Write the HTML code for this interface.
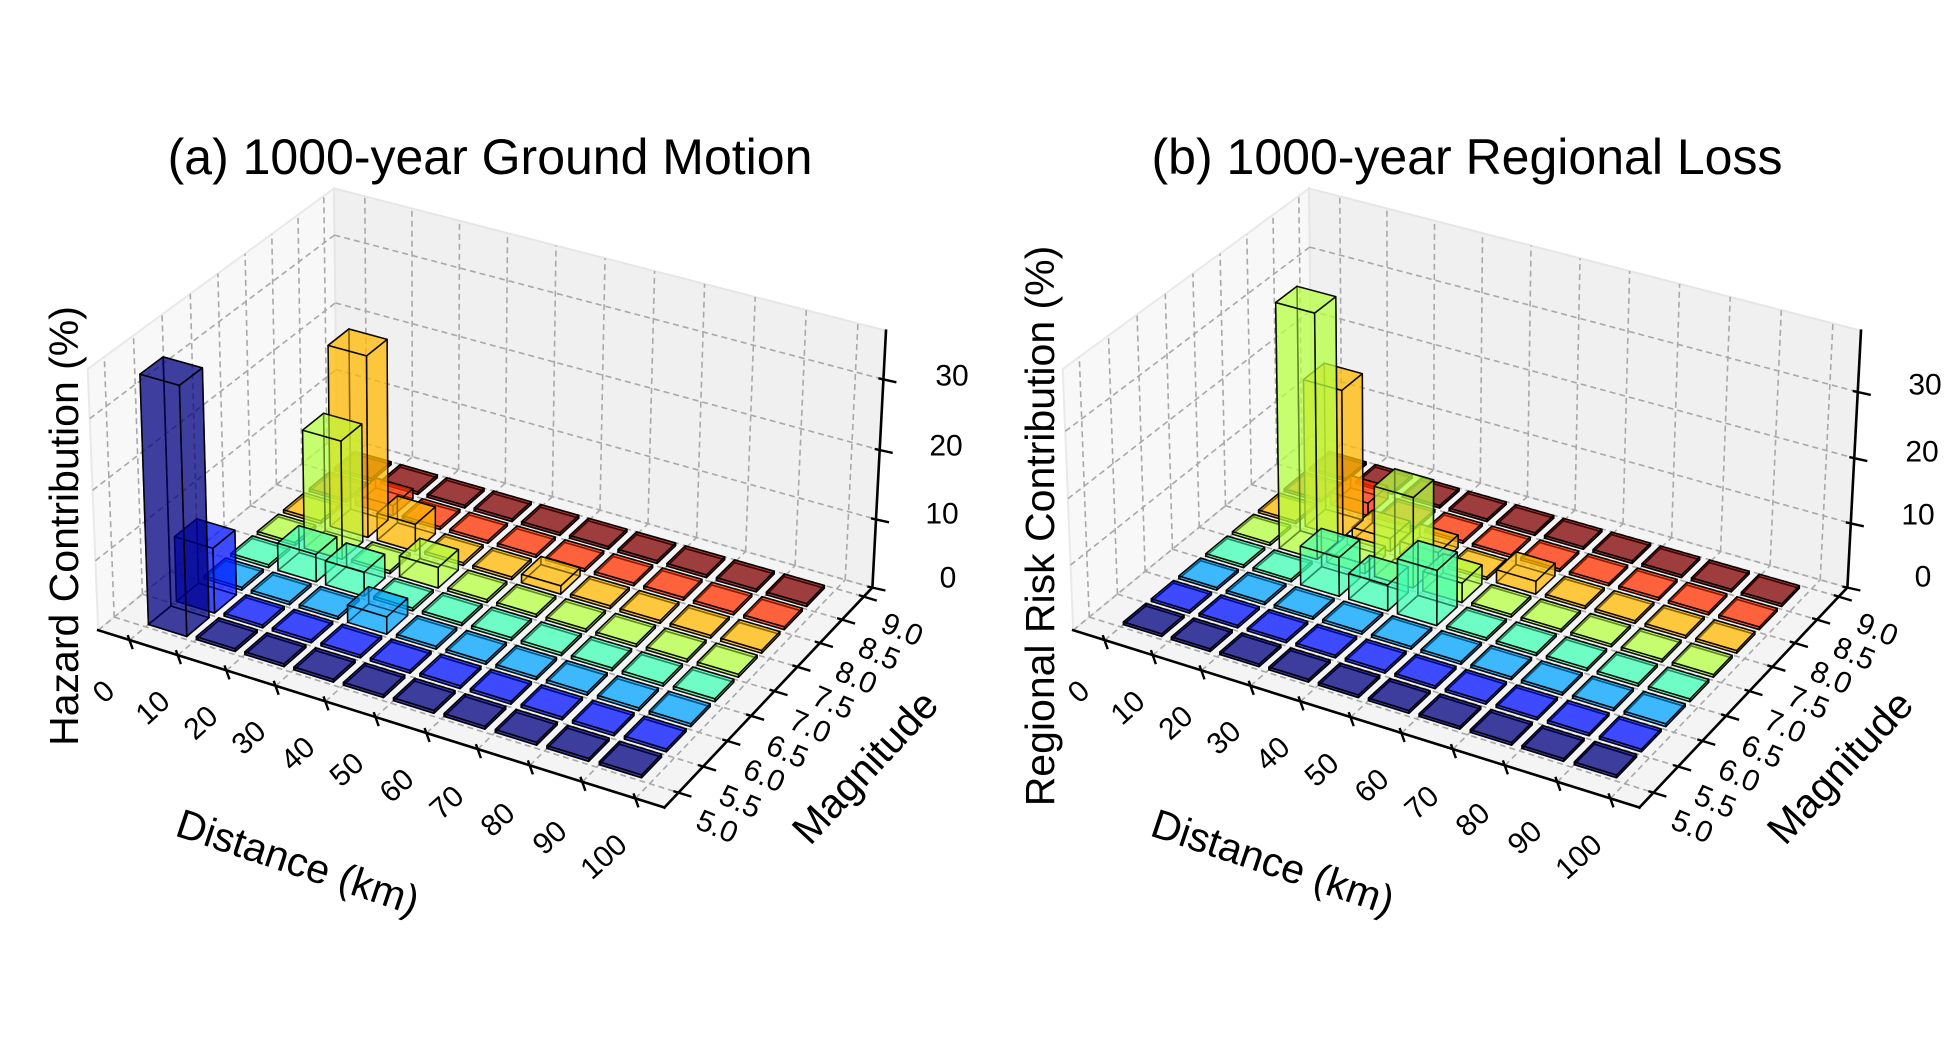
<!DOCTYPE html>
<html><head><meta charset="utf-8">
<style>
html,body{margin:0;padding:0;background:#fff;}
svg{display:block;}
text{font-family:"Liberation Sans",Arial,sans-serif;fill:#000;}
.t{font-size:30px;}
.l{font-size:41px;}
.ti{font-size:50px;}
</style></head><body>
<svg id="s" width="1950" height="1050" viewBox="0 0 1950 1050" xmlns="http://www.w3.org/2000/svg">
<rect width="1950" height="1050" fill="#fff"/>
<g id="ga"></g><g id="gb"></g>

<text class="ti" x="490" y="174" text-anchor="middle">(a) 1000-year Ground Motion</text>
<text class="ti" x="1467" y="174" text-anchor="middle">(b) 1000-year Regional Loss</text>

<text class="l" x="64" y="526" text-anchor="middle" dominant-baseline="central" transform="rotate(-90 64 526)">Hazard Contribution (%)</text>
<text class="l" x="1040" y="526" text-anchor="middle" dominant-baseline="central" transform="rotate(-90 1040 526)">Regional Risk Contribution (%)</text>

<text class="l" x="298" y="862" text-anchor="middle" dominant-baseline="central" transform="rotate(18.5 298 862)">Distance (km)</text>
<text class="l" x="1273" y="862" text-anchor="middle" dominant-baseline="central" transform="rotate(18.5 1273 862)">Distance (km)</text>
<text class="l" x="865" y="767" text-anchor="middle" dominant-baseline="central" transform="rotate(-47 865 767)">Magnitude</text>
<text class="l" x="1840" y="767" text-anchor="middle" dominant-baseline="central" transform="rotate(-47 1840 767)">Magnitude</text>

<!-- z tick labels a -->
<text class="t" x="952" y="376" text-anchor="middle" dominant-baseline="central">30</text>
<text class="t" x="946" y="446" text-anchor="middle" dominant-baseline="central">20</text>
<text class="t" x="942" y="514" text-anchor="middle" dominant-baseline="central">10</text>
<text class="t" x="948" y="578" text-anchor="middle" dominant-baseline="central">0</text>
<!-- z tick labels b -->
<text class="t" x="1925" y="385" text-anchor="middle" dominant-baseline="central">30</text>
<text class="t" x="1922" y="452" text-anchor="middle" dominant-baseline="central">20</text>
<text class="t" x="1918" y="515" text-anchor="middle" dominant-baseline="central">10</text>
<text class="t" x="1923" y="577" text-anchor="middle" dominant-baseline="central">0</text>

<!-- distance tick labels a -->
<text class="t" x="104" y="692" text-anchor="middle" dominant-baseline="central" transform="rotate(-42 104 692)">0</text>
<text class="t" x="153" y="708" text-anchor="middle" dominant-baseline="central" transform="rotate(-42 153 708)">10</text>
<text class="t" x="201" y="723" text-anchor="middle" dominant-baseline="central" transform="rotate(-42 201 723)">20</text>
<text class="t" x="249" y="738" text-anchor="middle" dominant-baseline="central" transform="rotate(-42 249 738)">30</text>
<text class="t" x="298" y="754" text-anchor="middle" dominant-baseline="central" transform="rotate(-42 298 754)">40</text>
<text class="t" x="347" y="770" text-anchor="middle" dominant-baseline="central" transform="rotate(-42 347 770)">50</text>
<text class="t" x="397" y="786" text-anchor="middle" dominant-baseline="central" transform="rotate(-42 397 786)">60</text>
<text class="t" x="447" y="803" text-anchor="middle" dominant-baseline="central" transform="rotate(-42 447 803)">70</text>
<text class="t" x="498" y="820" text-anchor="middle" dominant-baseline="central" transform="rotate(-42 498 820)">80</text>
<text class="t" x="550" y="838" text-anchor="middle" dominant-baseline="central" transform="rotate(-42 550 838)">90</text>
<text class="t" x="604" y="857" text-anchor="middle" dominant-baseline="central" transform="rotate(-42 604 857)">100</text>
<!-- distance tick labels b -->
<text class="t" x="1079" y="692" text-anchor="middle" dominant-baseline="central" transform="rotate(-42 1079 692)">0</text>
<text class="t" x="1128" y="708" text-anchor="middle" dominant-baseline="central" transform="rotate(-42 1128 708)">10</text>
<text class="t" x="1176" y="723" text-anchor="middle" dominant-baseline="central" transform="rotate(-42 1176 723)">20</text>
<text class="t" x="1224" y="738" text-anchor="middle" dominant-baseline="central" transform="rotate(-42 1224 738)">30</text>
<text class="t" x="1273" y="754" text-anchor="middle" dominant-baseline="central" transform="rotate(-42 1273 754)">40</text>
<text class="t" x="1322" y="770" text-anchor="middle" dominant-baseline="central" transform="rotate(-42 1322 770)">50</text>
<text class="t" x="1372" y="786" text-anchor="middle" dominant-baseline="central" transform="rotate(-42 1372 786)">60</text>
<text class="t" x="1422" y="803" text-anchor="middle" dominant-baseline="central" transform="rotate(-42 1422 803)">70</text>
<text class="t" x="1473" y="820" text-anchor="middle" dominant-baseline="central" transform="rotate(-42 1473 820)">80</text>
<text class="t" x="1525" y="838" text-anchor="middle" dominant-baseline="central" transform="rotate(-42 1525 838)">90</text>
<text class="t" x="1579" y="857" text-anchor="middle" dominant-baseline="central" transform="rotate(-42 1579 857)">100</text>

<!-- magnitude tick labels a -->
<text class="t" x="717" y="827" text-anchor="middle" dominant-baseline="central" transform="rotate(23 717 827)">5.0</text>
<text class="t" x="740" y="802" text-anchor="middle" dominant-baseline="central" transform="rotate(23 740 802)">5.5</text>
<text class="t" x="764" y="776" text-anchor="middle" dominant-baseline="central" transform="rotate(23 764 776)">6.0</text>
<text class="t" x="787" y="752" text-anchor="middle" dominant-baseline="central" transform="rotate(23 787 752)">6.5</text>
<text class="t" x="810" y="727" text-anchor="middle" dominant-baseline="central" transform="rotate(23 810 727)">7.0</text>
<text class="t" x="833" y="703" text-anchor="middle" dominant-baseline="central" transform="rotate(23 833 703)">7.5</text>
<text class="t" x="856" y="678" text-anchor="middle" dominant-baseline="central" transform="rotate(23 856 678)">8.0</text>
<text class="t" x="879" y="654" text-anchor="middle" dominant-baseline="central" transform="rotate(23 879 654)">8.5</text>
<text class="t" x="902" y="630" text-anchor="middle" dominant-baseline="central" transform="rotate(23 902 630)">9.0</text>
<!-- magnitude tick labels b -->
<text class="t" x="1692" y="827" text-anchor="middle" dominant-baseline="central" transform="rotate(23 1692 827)">5.0</text>
<text class="t" x="1715" y="802" text-anchor="middle" dominant-baseline="central" transform="rotate(23 1715 802)">5.5</text>
<text class="t" x="1739" y="776" text-anchor="middle" dominant-baseline="central" transform="rotate(23 1739 776)">6.0</text>
<text class="t" x="1762" y="752" text-anchor="middle" dominant-baseline="central" transform="rotate(23 1762 752)">6.5</text>
<text class="t" x="1785" y="727" text-anchor="middle" dominant-baseline="central" transform="rotate(23 1785 727)">7.0</text>
<text class="t" x="1808" y="703" text-anchor="middle" dominant-baseline="central" transform="rotate(23 1808 703)">7.5</text>
<text class="t" x="1831" y="678" text-anchor="middle" dominant-baseline="central" transform="rotate(23 1831 678)">8.0</text>
<text class="t" x="1854" y="654" text-anchor="middle" dominant-baseline="central" transform="rotate(23 1854 654)">8.5</text>
<text class="t" x="1877" y="630" text-anchor="middle" dominant-baseline="central" transform="rotate(23 1877 630)">9.0</text>
</svg>
<script>
(function(){
var NS='http://www.w3.org/2000/svg';
var XR=[-6.6,105.4], YR=[4.72,9.2];
function U(X){return (X-XR[0])/(XR[1]-XR[0]);}
function V(Y){return (Y-YR[0])/(YR[1]-YR[0]);}
var corr=[
 [0,0,0,98,629],[1,0,0,664,808],[1,1,0,872,585],[0,1,0,335,437],
 [0,1,1,335,188],[1,1,1,886,332],[0,0,1,87,368],
 [U(0),0,0,131.5,641],[U(100),0,0,637,799],
 [1,V(5),0,676,793],[1,V(9),0,866,597],
 [1,1,10/36.8,875.7,518],[1,1,20/36.8,879.5,450],[1,1,30/36.8,883.3,380]
];
function solve(corr){
  var n=11,i,j,k,M=[];
  for(i=0;i<n;i++){var r=[];for(j=0;j<=n;j++)r.push(0);M.push(r);}
  var S=500,CX=500,CY=500;
  corr.forEach(function(c){
    var u=c[0],v=c[1],w=c[2],x=(c[3]-CX)/S,y=(c[4]-CY)/S;
    var rows=[[[u,v,w,1,0,0,0,0,-x*u,-x*v,-x*w],x],[[0,0,0,0,u,v,w,1,-y*u,-y*v,-y*w],y]];
    rows.forEach(function(rb){
      var r=rb[0],b=rb[1];
      for(var a=0;a<n;a++){for(var q=0;q<n;q++)M[a][q]+=r[a]*r[q];M[a][n]+=r[a]*b;}
    });
  });
  for(i=0;i<n;i++){
    var p=i;for(k=i+1;k<n;k++)if(Math.abs(M[k][i])>Math.abs(M[p][i]))p=k;
    var t=M[i];M[i]=M[p];M[p]=t;
    for(k=0;k<n;k++){if(k===i)continue;var f=M[k][i]/M[i][i];for(j=i;j<=n;j++)M[k][j]-=f*M[i][j];}
  }
  var P=[];for(i=0;i<n;i++)P.push(M[i][n]/M[i][i]);
  return function(u,v,w){
    var d=P[8]*u+P[9]*v+P[10]*w+1;
    return [(P[0]*u+P[1]*v+P[2]*w+P[3])/d*S+CX,(P[4]*u+P[5]*v+P[6]*w+P[7])/d*S+CY,d];
  };
}
var proj=solve(corr);
var sgn=(proj(0,1,0)[2]>proj(1,0,0)[2])?1:-1;
var COLORS=['#00007f','#0012ff','#00a4ff','#41ffb6','#b6ff41','#ffb900','#ff3200','#7f0000'];
function pts(a){return a.map(function(p){return p[0].toFixed(1)+','+p[1].toFixed(1);}).join(' ');}
function panel(g,dx,zTop,H){
  function pr(u,v,w){var r=proj(u,v,w);return [r[0]+dx,r[1],r[2]];}
  function P(X,Y,Z){return pr(U(X),V(Y),Z/zTop);}
  function el(name,attrs){var e=document.createElementNS(NS,name);for(var k in attrs)e.setAttribute(k,attrs[k]);g.appendChild(e);return e;}
  function poly(a,attrs){attrs.points=pts(a);return el('polygon',attrs);}
  function line(a,b,attrs){var o={x1:a[0].toFixed(1),y1:a[1].toFixed(1),x2:b[0].toFixed(1),y2:b[1].toFixed(1)};for(var k in attrs)o[k]=attrs[k];return el('line',o);}
  // panes
  poly([pr(0,0,0),pr(0,1,0),pr(0,1,1),pr(0,0,1)],{fill:'#f8f8f8',stroke:'#e9e9e9','stroke-width':2});
  poly([pr(0,1,0),pr(1,1,0),pr(1,1,1),pr(0,1,1)],{fill:'#f0f0f0',stroke:'#e6e6e6','stroke-width':2});
  poly([pr(0,0,0),pr(1,0,0),pr(1,1,0),pr(0,1,0)],{fill:'#f4f4f4',stroke:'#e9e9e9','stroke-width':2});
  var gs={stroke:'#a8a8a8','stroke-width':1.6,'stroke-dasharray':'6,4',fill:'none'};
  var X,Y,Z,k;
  for(X=0;X<=100;X+=10){line(P(X,YR[0],0),P(X,YR[1],0),gs);line(P(X,YR[1],0),P(X,YR[1],zTop),gs);}
  for(k=0;k<=8;k++){Y=5+0.5*k;line(P(XR[0],Y,0),P(XR[1],Y,0),gs);line(P(XR[0],Y,0),P(XR[0],Y,zTop),gs);}
  for(Z=0;Z<=30;Z+=10){line(P(XR[0],YR[1],Z),P(XR[1],YR[1],Z),gs);line(P(XR[0],YR[0],Z),P(XR[0],YR[1],Z),gs);}
  var as={stroke:'#000','stroke-width':2.6,'stroke-linecap':'square'};
  line(pr(0,0,0),pr(1,0,0),as);line(pr(1,0,0),pr(1,1,0),as);line(pr(1,1,0),pr(1,1,1),as);
  var ts={stroke:'#000','stroke-width':2.4};
  var c;
  for(X=0;X<=100;X+=10){c=P(X,YR[0],0);line([c[0]-2,c[1]-5],[c[0]+3,c[1]+9],ts);}
  for(k=0;k<=8;k++){c=P(XR[1],5+0.5*k,0);line([c[0]-5,c[1]-1.5],[c[0]+13,c[1]+4],ts);}
  for(Z=0;Z<=30;Z+=10){c=P(XR[1],YR[1],Z);line([c[0]-5,c[1]-1],[c[0]+13,c[1]+3],ts);}
  // bars
  var faces=[];
  for(var i=0;i<10;i++){for(var j=0;j<8;j++){
    var h=H[i+','+j];if(h===undefined)h=0.4;
    var X0=10*i,X1=X0+8,Y0=5+0.5*j+0.05,Y1=Y0+0.4;
    var a000=P(X0,Y0,0),a100=P(X1,Y0,0),a110=P(X1,Y1,0),a010=P(X0,Y1,0);
    var a001=P(X0,Y0,h),a101=P(X1,Y0,h),a111=P(X1,Y1,h),a011=P(X0,Y1,h);
    var fl=[[a000,a100,a110,a010],[a001,a101,a111,a011],[a000,a100,a101,a001],[a010,a110,a111,a011],[a000,a010,a011,a001],[a100,a110,a111,a101]];
    fl.forEach(function(f){
      var d=(f[0][2]+f[1][2]+f[2][2]+f[3][2])/4;
      faces.push({p:f,d:sgn*d,c:COLORS[j]});
    });
  }}
  faces.sort(function(a,b){return b.d-a.d;});
  faces.forEach(function(f){
    poly(f.p,{fill:f.c,'fill-opacity':0.5,stroke:'#000','stroke-opacity':0.85,'stroke-width':1.5,'stroke-linejoin':'round'});
  });
}
var HA={'0,0':35.4,'0,1':9.4,'1,3':4,'1,4':17.3,'1,5':26.5,'2,3':3.5,'3,2':2.5,'3,4':3,'2,5':4,'5,5':1.2,'1,6':1.5};
var HB={'1,4':37.7,'1,5':22.9,'2,3':6,'3,3':4,'4,3':8.5,'3,4':14,'4,4':3,'2,5':2,'3,5':2,'5,5':2,'1,6':2,'2,4':1.5};
panel(document.getElementById('ga'),0,36.8,HA);
panel(document.getElementById('gb'),975,39.1,HB);
})();
</script>
</body></html>
